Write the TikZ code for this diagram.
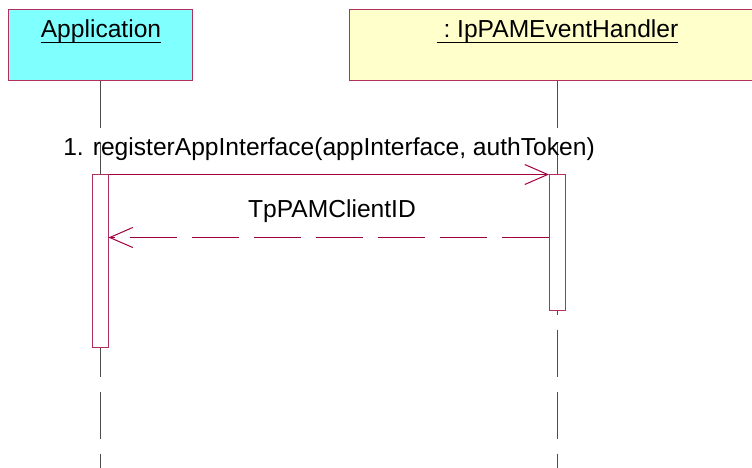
\documentclass[tikz,border=0pt]{standalone}
\usepackage{fontspec}
\setmainfont{Liberation Sans}
\usetikzlibrary{arrows.meta}
\definecolor{objborder}{RGB}{176,48,96}
\definecolor{msgred}{RGB}{160,0,64}
\definecolor{appcyan}{RGB}{128,255,255}
\definecolor{objyellow}{RGB}{255,255,204}
\begin{document}
\begin{tikzpicture}[x=1pt,y=-1pt,
		every node/.style={inner sep=0pt,font=\fontsize{24.6}{28}\selectfont},
		objbox/.style={draw=objborder,line width=1pt,minimum height=71pt},
		objname/.style={anchor=base},
		uline/.style={draw=black,line width=1.6pt},
		lifeline/.style={draw=black!70,line width=0.9pt,dash pattern=on 47pt off 15pt},
		actbar/.style={draw=objborder,fill=white,line width=1pt,minimum width=16pt},
		msg/.style={draw=msgred,line width=1pt,-{Straight Barb[length=23pt,width=20pt]}},
		reply/.style={msg,dash pattern=on 47pt off 15pt}]
		\useasboundingbox (0,0) rectangle (752,468);
		\clip (0,0) rectangle (752,468);
		\node [objbox,fill=appcyan,minimum width=184pt] (app) at (100,45.5) {};
		\node [objbox,fill=objyellow,minimum width=416pt] (handler) at (557,45.5) {};
		\node [objname] (apptext) at (101,38) {Application};
		\node [objname] (handlertext) at (557.5,38) {\ :\ IpPAMEventHandler};
		\draw [uline] ([yshift=-4.5pt]apptext.base west) -- ([yshift=-4.5pt]apptext.base east);
		\draw [uline] ([yshift=-4.5pt]handlertext.base west) -- ([yshift=-4.5pt]handlertext.base east);
		\coordinate (append) at (100,468);
		\coordinate (handlerend) at (557,468);
		\draw [lifeline] (app.south) -- (append);
		\draw [lifeline] (handler.south) -- (handlerend);
		\node [actbar,minimum height=173pt] (appbar) at (100,260.5) {};
		\node [actbar,minimum height=136pt] (handlerbar) at (557.5,242) {};
		\draw [msg] ([yshift=-1pt]appbar.north east) -- ([yshift=-1pt]handlerbar.north west);
		\node [anchor=base] (msgone) at (329,156) {1. registerAppInterface(appInterface, authToken)};
		\draw [reply] ([yshift=-64pt]handlerbar.north west) -- ([yshift=-64pt]appbar.north east);
		\node [anchor=base] (replytext) at (332,217) {TpPAMClientID};
	\end{tikzpicture}
\end{document}
